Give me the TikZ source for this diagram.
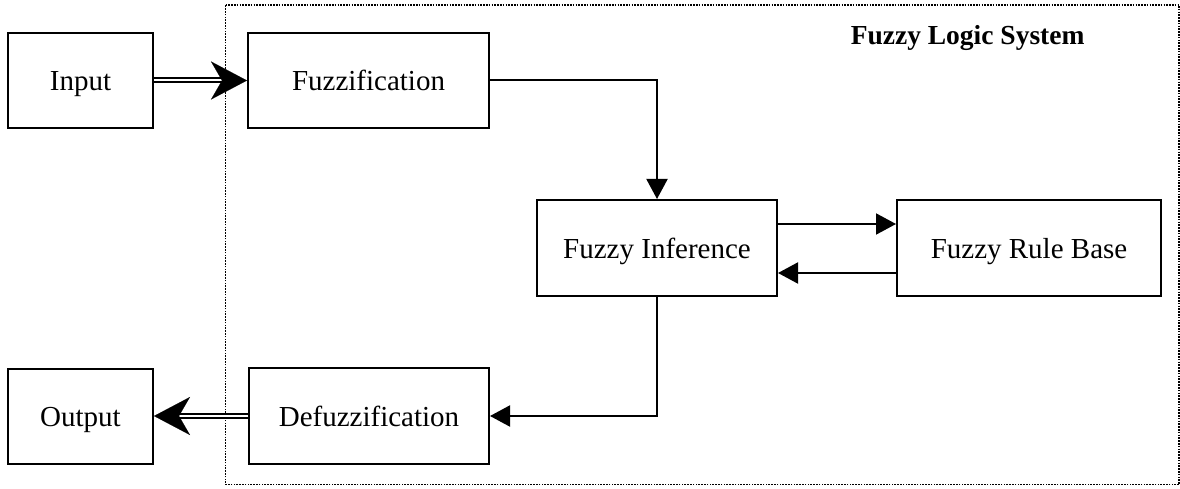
\documentclass[tikz,border=0pt]{standalone}
\usepackage{fontspec}
\setmainfont{Liberation Serif}
\usetikzlibrary{arrows.meta,calc}
\begin{document}
\begin{tikzpicture}[x=1pt,y=-1pt,
  block/.style={draw,line width=2pt,minimum height=95pt,inner sep=0pt,
    text height=21pt,text depth=0pt,font=\fontsize{29}{34}\selectfont},
  arr/.style={line width=2pt,-{Triangle[length=20pt,width=21pt]}},
  dbl/.style={double,line width=2pt,double distance=2pt,shorten >=24pt},
  bighead/.style={line width=0.1pt,-{Stealth[length=36pt,width=38pt,inset=11pt]}},
  border/.style={line width=1.6pt,dash pattern=on 1.6pt off 1.2pt}]
\useasboundingbox (0,0) rectangle (1180,489);
% dotted frame of the fuzzy logic system
\draw[border] (225.5,5) -- (1179.2,5) -- (1179.2,484.5) -- (225.5,484.5) -- cycle;
\node[font=\fontsize{27.5}{32}\selectfont\bfseries,anchor=east] (title) at (1088,38) {Fuzzy Logic System};
% blocks
\node[block,minimum width=145pt] (in)  at (80.5,80.5)  {Input};
\node[block,minimum width=241pt] (fz)  at (368.5,80.5) {Fuzzification};
\node[block,minimum width=240pt,minimum height=96pt] (inf) at (657,248) {Fuzzy Inference};
\node[block,minimum width=264pt,minimum height=96pt] (rb)  at (1029,248) {Fuzzy Rule Base};
\node[block,minimum width=240pt,minimum height=96pt] (dfz) at (369,416) {Defuzzification};
\node[block,minimum width=145pt] (out) at (80.5,416) {Output};
% system input and output (double lines with large heads)
\draw[dbl] (in.east) -- (fz.west);
\draw[bighead] ($(fz.west)+(-24,0)$) -- (fz.west);
\draw[dbl] (dfz.west) -- (out.east);
\draw[bighead] ($(out.east)+(24,0)$) -- (out.east);
% internal flow
\draw[arr] (fz.east) -| (inf.north);
\draw[arr] ([yshift=24pt]inf.east) -- ([yshift=24pt]rb.west);
\draw[arr] ([yshift=-25pt]rb.west) -- ([yshift=-25pt]inf.east);
\draw[arr] (inf.south) |- (dfz.east);
\end{tikzpicture}
\end{document}
